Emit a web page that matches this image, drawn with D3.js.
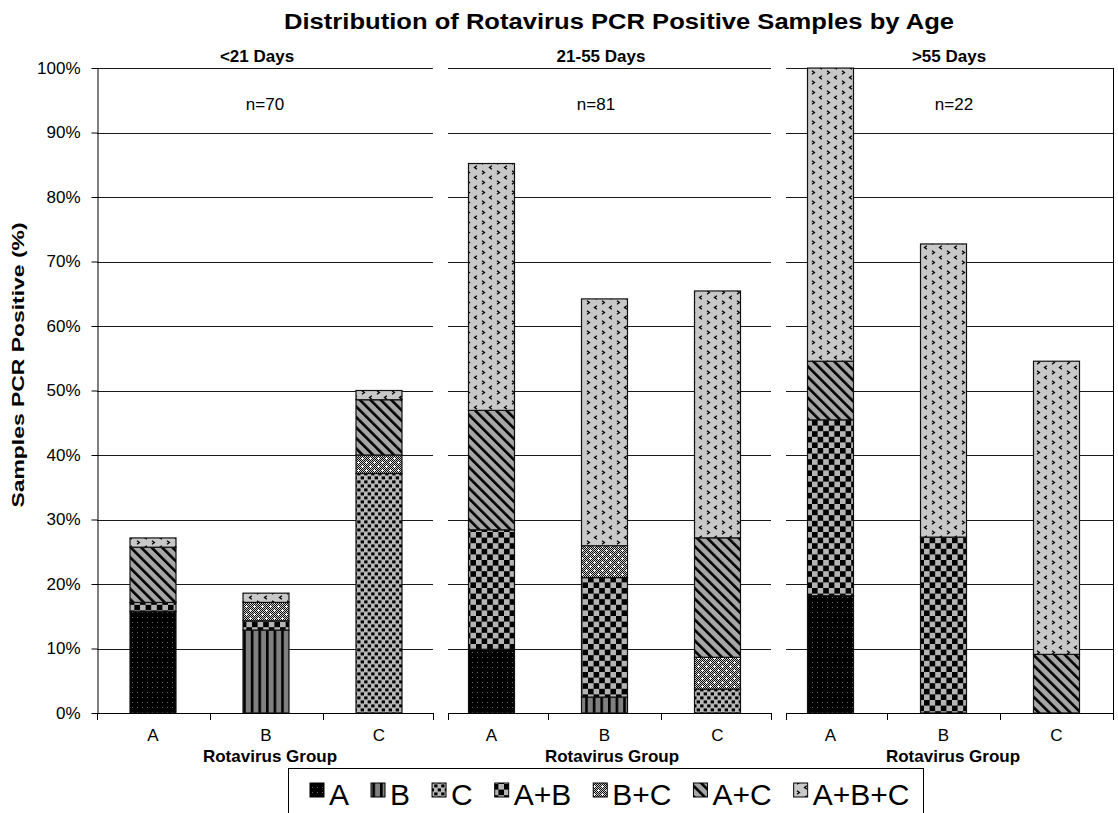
<!DOCTYPE html>
<html>
<head>
<meta charset="utf-8">
<title>Distribution of Rotavirus PCR Positive Samples by Age</title>
<script src="https://d3js.org/d3.v7.min.js"></script>
<style>
  body { margin: 0; background: #fff; }
  svg { display: block; font-family: "Liberation Sans", Arial, Helvetica, sans-serif; }
</style>
</head>
<body>
<div id="chart"></div>
<script>
  // ---- data (percent of samples PCR positive) ----
  var groups = ["A", "B", "C"];
  var seriesNames = ["A", "B", "C", "A+B", "B+C", "A+C", "A+B+C"];
  var panelTitles = ["<21 Days", "21-55 Days", ">55 Days"];
  var sampleLabels = ["n=70", "n=81", "n=22"];
  var yTicks = [0, 10, 20, 30, 40, 50, 60, 70, 80, 90, 100];

  // one row per series (A, B, C, A+B, B+C, A+C, A+B+C), columns = rotavirus group A, B, C
  var under21 = [
    [15.71, 0, 0],
    [0, 12.86, 0],
    [0, 0, 37.14],
    [1.43, 1.43, 0],
    [0, 2.86, 2.86],
    [8.57, 0, 8.57],
    [1.43, 1.43, 1.43]
  ];
  var days21to55 = [
    [9.88, 0, 0],
    [0, 2.47, 0],
    [0, 0, 3.70],
    [18.52, 18.52, 0],
    [0, 4.94, 4.94],
    [18.52, 0, 18.52],
    [38.27, 38.27, 38.27]
  ];
  var over55 = [
    [18.18, 0, 0],
    [0, 0, 0],
    [0, 0, 0],
    [27.27, 27.27, 0],
    [0, 0, 0],
    [9.09, 0, 9.09],
    [45.45, 45.45, 45.45]
  ];
  var panelData = [under21, days21to55, over55];

  // ---- layout ----
  var width = 1118, height = 813;
  var yTop = 68, yBottom = 713;
  var bandStart = [96.5, 435, 774], bandSpan = 339;
  var visible = [[97, 433], [448, 771], [786, 1113]];
  var titleX = [257, 601, 949];
  var nX = [265, 596, 954];
  var groupTitleX = [270, 612, 953];

  var svg = d3.select("#chart").append("svg")
    .attr("width", width)
    .attr("height", height);

  // ---- fill patterns ----
  var defs = svg.append("defs");

  function makePattern(id, w, h, transform) {
    var p = defs.append("pattern")
      .attr("id", id)
      .attr("patternUnits", "userSpaceOnUse")
      .attr("width", w)
      .attr("height", h);
    if (transform) p.attr("patternTransform", transform);
    return p;
  }

  // A: black with grey dots
  var pA = makePattern("pat0", 5, 5);
  pA.append("rect").attr("width", 5).attr("height", 5).attr("fill", "#000");
  pA.append("rect").attr("x", 2).attr("y", 2).attr("width", 1).attr("height", 1).attr("fill", "#6a6a6a");

  // B: vertical stripes
  var pB = makePattern("pat1", 7.6, 10);
  pB.append("rect").attr("width", 7.6).attr("height", 10).attr("fill", "#808080");
  pB.append("rect").attr("width", 2.6).attr("height", 10).attr("fill", "#000");

  // C: grey with black squares
  var pC = makePattern("pat2", 7, 8);
  pC.append("rect").attr("width", 7).attr("height", 8).attr("fill", "#b8b8b8");
  pC.append("rect").attr("x", 0.2).attr("y", 0.4).attr("width", 3.3).attr("height", 3).attr("fill", "#000");
  pC.append("rect").attr("x", 3.7).attr("y", 4.4).attr("width", 3.3).attr("height", 3).attr("fill", "#000");

  // A+B: checkerboard
  var pAB = makePattern("pat3", 11.2, 11.2);
  pAB.append("rect").attr("width", 11.2).attr("height", 11.2).attr("fill", "#b4b4b4");
  pAB.append("rect").attr("width", 5.6).attr("height", 5.6).attr("fill", "#000");
  pAB.append("rect").attr("x", 5.6).attr("y", 5.6).attr("width", 5.6).attr("height", 5.6).attr("fill", "#000");

  // B+C: fine dither with white crosses
  var pBC = makePattern("pat4", 8, 8);
  pBC.append("rect").attr("width", 8).attr("height", 8).attr("fill", "#c4c4c4");
  var dither = "";
  for (var yy = 0; yy < 8; yy++) {
    for (var xx = (yy % 2); xx < 8; xx += 2) {
      dither += "M" + xx + "," + yy + "h1v1h-1z";
    }
  }
  pBC.append("path").attr("d", dither).attr("fill", "#111");
  pBC.append("path").attr("d", "M1,2h3v1h-3zM2,1h1v3h-1zM5,6h3v1h-3zM6,5h1v3h-1z").attr("fill", "#fff");

  // A+C: wide diagonal stripes
  var pAC = makePattern("pat5", 7.4, 10, "rotate(-45)");
  pAC.append("rect").attr("width", 7.4).attr("height", 10).attr("fill", "#a6a6a6");
  pAC.append("rect").attr("width", 2.6).attr("height", 10).attr("fill", "#000");

  // A+B+C: light grey with small chevrons
  var pABC = makePattern("pat6", 15, 10);
  pABC.append("rect").attr("width", 15).attr("height", 10).attr("fill", "#c8c8c8");
  pABC.append("path")
    .attr("d", "M2,0.8L4.4,2.5L2,4.2M11.9,5.8L9.5,7.5L11.9,9.2")
    .attr("fill", "none").attr("stroke", "#000").attr("stroke-width", 1.3);

  // ---- scales ----
  var y = d3.scaleLinear().domain([0, 100]).range([yBottom, yTop]);

  var stack = d3.stack().keys(seriesNames);

  // title
  svg.append("text")
    .attr("x", 619)
    .attr("y", 29)
    .attr("text-anchor", "middle")
    .attr("textLength", 670)
    .attr("lengthAdjust", "spacingAndGlyphs")
    .style("font-size", "22px")
    .style("font-weight", "bold")
    .text("Distribution of Rotavirus PCR Positive Samples by Age");

  panelData.forEach(function(rows, pi) {
    var g = svg.append("g");
    var x = d3.scaleBand()
      .domain(groups)
      .range([bandStart[pi], bandStart[pi] + bandSpan])
      .paddingInner(0.593)
      .paddingOuter(0.2965);

    // gridlines
    g.selectAll("line.grid")
      .data(yTicks.filter(function(d) { return d > 0; }))
      .enter().append("line")
      .attr("class", "grid")
      .attr("x1", visible[pi][0])
      .attr("x2", visible[pi][1])
      .attr("y1", function(d) { return Math.round(y(d)) + 0.5; })
      .attr("y2", function(d) { return Math.round(y(d)) + 0.5; })
      .attr("stroke", "#1a1a1a")
      .attr("stroke-width", 1);

    // stacked bars
    var table = groups.map(function(grp, gi) {
      var row = { group: grp };
      seriesNames.forEach(function(s, si) { row[s] = rows[si][gi]; });
      return row;
    });
    var layers = stack(table);
    layers.forEach(function(layer, si) {
      g.selectAll("rect.s" + si)
        .data(layer.filter(function(d) { return d[1] - d[0] > 0; }))
        .enter().append("rect")
        .attr("class", "s" + si)
        .attr("x", function(d) { return x(d.data.group); })
        .attr("width", x.bandwidth())
        .attr("y", function(d) { return y(d[1]); })
        .attr("height", function(d) { return y(d[0]) - y(d[1]); })
        .attr("fill", "url(#pat" + si + ")")
        .attr("stroke", "#111")
        .attr("stroke-width", 1.2);
    });

    // bottom axis line and ticks at category boundaries
    var half = (x.step() - x.bandwidth()) / 2;
    var tickXs = [visible[pi][0], x("B") - half, x("C") - half, visible[pi][1]];
    g.append("line")
      .attr("x1", visible[pi][0]).attr("x2", visible[pi][1])
      .attr("y1", yBottom + 0.5).attr("y2", yBottom + 0.5)
      .attr("stroke", "#000");
    g.selectAll("line.xt")
      .data(tickXs)
      .enter().append("line")
      .attr("class", "xt")
      .attr("x1", function(d) { return Math.round(d) + 0.5; })
      .attr("x2", function(d) { return Math.round(d) + 0.5; })
      .attr("y1", yBottom)
      .attr("y2", yBottom + 7)
      .attr("stroke", "#000");

    g.selectAll("text.cat")
      .data(groups)
      .enter().append("text")
      .attr("class", "cat")
      .attr("x", function(d) { return x(d) + x.bandwidth() / 2; })
      .attr("y", 741)
      .attr("text-anchor", "middle")
      .style("font-size", "17px")
      .text(function(d) { return d; });

    g.append("text")
      .attr("x", groupTitleX[pi])
      .attr("y", 762)
      .attr("text-anchor", "middle")
      .style("font-size", "17px")
      .style("font-weight", "bold")
      .text("Rotavirus Group");

    g.append("text")
      .attr("x", titleX[pi])
      .attr("y", 62)
      .attr("text-anchor", "middle")
      .style("font-size", "17px")
      .style("font-weight", "bold")
      .text(panelTitles[pi]);

    g.append("text")
      .attr("x", nX[pi])
      .attr("y", 110)
      .attr("text-anchor", "middle")
      .style("font-size", "17px")
      .text(sampleLabels[pi]);
  });

  // right border of last panel
  svg.append("line")
    .attr("x1", visible[2][1] + 0.5).attr("x2", visible[2][1] + 0.5)
    .attr("y1", yTop).attr("y2", yBottom)
    .attr("stroke", "#000");

  // y axis
  var yAxis = d3.axisLeft(y)
    .tickValues(yTicks)
    .tickFormat(function(d) { return d + "%"; })
    .tickSize(6)
    .tickSizeOuter(0)
    .tickPadding(11);
  var ya = svg.append("g")
    .attr("transform", "translate(97.5,0)")
    .call(yAxis);
  ya.selectAll("text").style("font-size", "17px").attr("fill", "#000").style("font-family", "inherit");
  ya.selectAll("path, line").attr("stroke", "#000");

  svg.append("text")
    .attr("transform", "translate(24,365) rotate(-90)")
    .attr("text-anchor", "middle")
    .attr("textLength", 285)
    .attr("lengthAdjust", "spacingAndGlyphs")
    .style("font-size", "16px")
    .style("font-weight", "bold")
    .text("Samples PCR Positive (%)");

  // ---- legend ----
  var lg = svg.append("g");
  lg.append("rect")
    .attr("x", 288.5).attr("y", 768.5)
    .attr("width", 635).attr("height", 60)
    .attr("fill", "#fff").attr("stroke", "#000");
  var cx = 310;
  seriesNames.forEach(function(s, i) {
    lg.append("rect")
      .attr("x", cx).attr("y", 783)
      .attr("width", 14).attr("height", 14)
      .attr("fill", "url(#pat" + i + ")")
      .attr("stroke", "#000");
    var t = lg.append("text")
      .attr("x", cx + 19).attr("y", 805)
      .style("font-size", "30px")
      .text(s);
    cx += 19 + t.node().getComputedTextLength() + 22;
  });
</script>
</body>
</html>
